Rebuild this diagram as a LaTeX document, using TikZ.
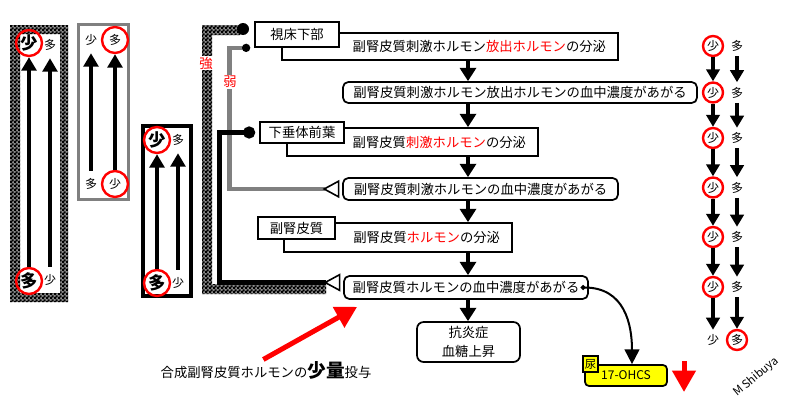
\documentclass[tikz,border=0pt]{standalone}
\usepackage{fontspec}
\setmainfont{Noto Sans CJK JP}
\usetikzlibrary{arrows.meta,patterns}
\pgfdeclarepatternformonly{chk}{\pgfpointorigin}{\pgfqpoint{2.6pt}{2.6pt}}{\pgfqpoint{2.6pt}{2.6pt}}
{
  \pgfpathrectangle{\pgfpointorigin}{\pgfqpoint{1.75pt}{1.75pt}}
  \pgfpathrectangle{\pgfqpoint{1.3pt}{1.3pt}}{\pgfqpoint{1.75pt}{1.75pt}}
  \pgfusepath{fill}
}
\definecolor{pale}{RGB}{128,128,128}
\definecolor{lemon}{RGB}{255,255,0}

\begin{document}
\begin{tikzpicture}
  [x=0.75pt,y=-0.75pt,
   every node/.style={inner sep=1pt,font=\fontsize{10}{12}\selectfont},
   sqbox/.style={draw,line width=1.3pt},
   secbox/.style={sqbox,fill=white,align=right,inner xsep=9pt},
   rbox/.style={sqbox,fill=white,rounded corners=4pt},
   labelbox/.style={sqbox,fill=white},
   chip/.style={circle,inner sep=0pt,minimum size=15pt,font=\fontsize{9}{10}\selectfont},
   ring/.style={chip,draw=red,line width=1.8pt},
   bigchip/.style={circle,inner sep=0pt,minimum size=19.5pt,font=\fontsize{9}{10}\selectfont},
   bigring/.style={bigchip,draw=red,line width=1.8pt},
   heavy/.style={font=\fontsize{13}{14}\bfseries\selectfont},
   checker/.style={fill=black!45,postaction={pattern=chk}},
   flow/.style={line width=3.5pt,-{Triangle[width=12pt,length=10pt]}},
   riser/.style={line width=3pt,-{Triangle[width=11pt,length=10pt]}},
   faller/.style={line width=2.6pt,-{Triangle[width=10pt,length=9pt]}},
   gate/.tip={Triangle[reversed,width=13.5pt,length=12.75pt,color=black,fill=white,line width=1.2pt]},
   fbgray/.style={draw=pale,line width=3.5pt,{gate}-{Circle[length=6pt,color=black]}},
   fbblack/.style={line width=3.5pt,{gate}-{Circle[length=9pt]}},
   redarrow/.style={red,line width=3.75pt,-{Triangle[width=17pt,length=16pt]}},
   curvy/.style={line width=1.5pt,{Circle[length=3.5pt]}-{Triangle[width=11pt,length=11pt]}}]
  \useasboundingbox (0,0) rectangle (800,407);

  \fill[checker,even odd rule] (10,25) rectangle (68,302) (20,34) rectangle (60,293);
  \node[bigring,heavy] (a1) at (29,43) {少};
  \node[bigchip] (a2) at (50,45) {多};
  \node[bigring,heavy] (a3) at (29,281) {多};
  \node[bigchip] (a4) at (50,280) {少};
  \draw[riser] (a3) -- (a1);
  \draw[riser] (a4) -- (a2);

  \draw[pale,line width=2.3pt] (78.5,24.5) rectangle (128.5,199.5);
  \node[bigchip] (b1) at (91,40) {少};
  \node[bigring] (b2) at (115,40) {多};
  \node[bigchip] (b3) at (91,184) {多};
  \node[bigring] (b4) at (115,184) {少};
  \draw[riser] (b3) -- (b1);
  \draw[riser] (b4) -- (b2);

  \draw[line width=3pt] (143,126) rectangle (191,296);
  \node[bigring,heavy] (c1) at (157,140) {少};
  \node[bigchip] (c2) at (178,140) {多};
  \node[bigring,heavy] (c3) at (157,283) {多};
  \node[bigchip] (c4) at (178,283) {少};
  \draw[riser] (c3) -- (c1);
  \draw[riser] (c4) -- (c2);

  \node[secbox,text width=234pt,minimum height=20.25pt] (crhsec) at (450,46.5) {副腎皮質刺激ホルモン\textcolor{red}{放出ホルモン}の分泌};
  \node[rbox,minimum width=265.5pt,minimum height=15.75pt] (crhlvl) at (520,92.5) {副腎皮質刺激ホルモン放出ホルモンの血中濃度があがる};
  \node[secbox,text width=170.25pt,minimum height=21pt] (acthsec) at (412.5,142) {副腎皮質\textcolor{red}{刺激ホルモン}の分泌};
  \node[rbox,minimum width=206.25pt,minimum height=16.5pt] (acthlvl) at (480.5,189) {副腎皮質刺激ホルモンの血中濃度があがる};
  \node[secbox,text width=153pt,minimum height=21.75pt] (cortsec) at (398,237.5) {副腎皮質\textcolor{red}{ホルモン}の分泌};
  \node[rbox,minimum width=183pt,minimum height=17.25pt] (cortlvl) at (466,287.5) {副腎皮質ホルモンの血中濃度があがる};
  \node[rbox,rounded corners=5pt,minimum width=77.25pt,minimum height=30pt,align=center,font=\fontsize{10}{14}\selectfont] (effect) at (468.5,342) {抗炎症\\血糖上昇};

  \node[labelbox,minimum width=63pt,minimum height=18.75pt] (hypo) at (297,34.5) {視床下部};
  \node[labelbox,minimum width=63pt,minimum height=15.75pt] (pit) at (302,132.5) {下垂体前葉};
  \node[labelbox,minimum width=57.75pt,minimum height=16.5pt] (adr) at (296.5,228) {副腎皮質};

  \coordinate (kb) at (219.5,0);
  \coordinate (kg) at (229.5,0);
  \fill[checker] (240,25) -- (202,25) -- (202,294) -- (326,294) -- (326,284) -- (212,284) -- (212,35) -- (240,35) -- cycle;
  \fill (243,29) circle (4.5pt);
  \draw[fbgray] ([xshift=-2pt]acthlvl.west) -| (kg |- hypo.south) -- ([xshift=-3pt]hypo.south west);
  \draw[fbblack] ([shift={(-2pt,3.75pt)}]cortlvl.west) -| (kb |- pit.west) -- ([xshift=-3pt]pit.west);

  \node[text=red,fill=white,inner sep=0.5pt] (kyo) at (206,63) {強};
  \node[text=red,fill=white,inner sep=0.5pt] (jaku) at (230,82) {弱};

  \coordinate (ax) at (468,0);
  \foreach \a/\b in {crhsec/crhlvl,crhlvl/acthsec,acthsec/acthlvl,acthlvl/cortsec,cortsec/cortlvl,cortlvl/effect}
    \draw[flow] (\a.south -| ax) -- (\b.north -| ax);

  \node[rbox,fill=lemon,rounded corners=3pt,minimum width=61.5pt,minimum height=15.75pt,font=\fontsize{9}{10}\selectfont] (ohcs) at (626,375.5) {17-OHCS};
  \node[draw,fill=lemon,line width=1pt,inner sep=0pt,minimum width=11.25pt,minimum height=12pt,font=\fontsize{8.5}{9}\selectfont] (urine) at (590.5,364) {尿};
  \draw[curvy] ([xshift=-6pt]cortlvl.east) .. controls (625,287.5) and (632,325) .. ([xshift=4.5pt]ohcs.north);

  \coordinate (fallA) at (684,361);
  \coordinate (fallB) at (684,392);
  \draw[redarrow] (fallA) -- (fallB);

  \node (dose) at (266,370) {合成副腎皮質ホルモンの{\fontsize{14}{14}\bfseries\selectfont 少量}投与};
  \draw[redarrow] ([xshift=-2pt]dose.north) -- ([shift={(10.5pt,-5.25pt)}]cortlvl.south west);

  \foreach \y [count=\i] in {46,92.5,138,187.5,237,287} {
    \node[ring] (l\i) at (713,\y) {少};
    \node[chip] (r\i) at (737,\y) {多};
  }
  \node[chip] (l7) at (713,340) {少};
  \node[ring] (r7) at (737,340) {多};
  \foreach \i/\j in {1/2,2/3,3/4,4/5,5/6,6/7} {
    \draw[faller] (l\i) -- (l\j);
    \draw[faller] (r\i) -- (r\j);
  }

  \node[rotate=40,font=\fontsize{8.5}{10}\selectfont] (sign) at (756,377) {M Shibuya};
\end{tikzpicture}
\end{document}
